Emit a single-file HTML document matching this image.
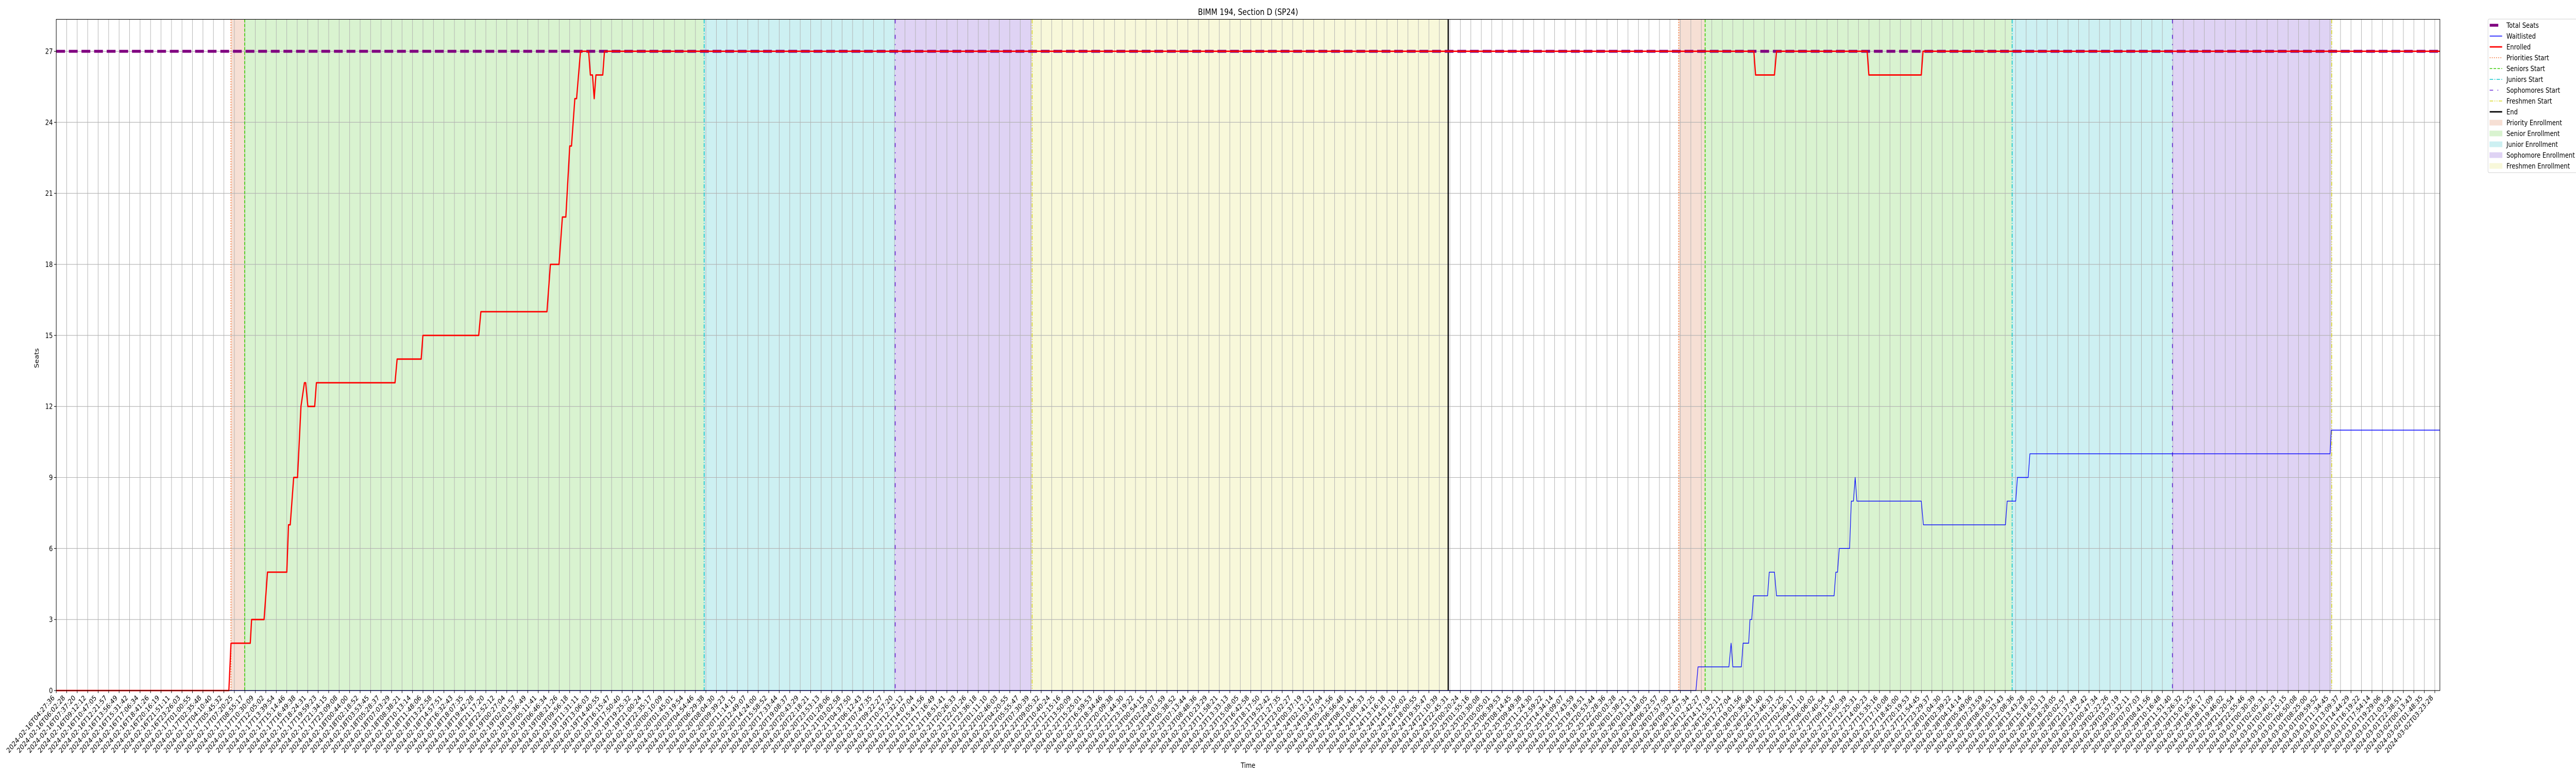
<!DOCTYPE html>
<html><head><meta charset="utf-8"><style>
html,body{margin:0;padding:0;background:#fff;width:100%;height:100%;overflow:hidden;}
svg{display:block;width:100vw;height:100vh;font-family:"DejaVu Sans","Liberation Sans",sans-serif;}
</style></head><body>
<svg id="chart" viewBox="0 0 6000 1500" preserveAspectRatio="none" xmlns="http://www.w3.org/2000/svg">
<rect width="6000" height="1500" fill="#fff"/>
<g id="bands"></g><g id="grid"></g><g id="vlines"></g><g id="series"></g><g id="axes"></g>
<text x="2907" y="29" font-size="16.7" text-anchor="middle">BIMM 194, Section D (SP24)</text>
<text x="2907" y="1490" font-size="13.9" text-anchor="middle">Time</text>
<text transform="translate(90,695) rotate(-90)" font-size="13.9" text-anchor="middle">Seats</text>
<g id="legend"></g>
</svg>
<script>
// ---- data ----
const startISO = "2024-02-16T04:27:36Z";
const totalHours = 359.7;
const yTicks = [0,3,6,9,12,15,18,21,24,27];
const totalSeats = 27;
const enrolledTimes = [0,26.05,26.37,29.28,29.48,31.36,31.88,34.79,35.05,35.31,35.83,36.41,36.93,37.45,37.64,37.97,39.0,39.26,51.12,51.44,55.07,55.33,63.75,64.08,74.05,74.57,75.87,76.38,76.9,77.49,77.75,78.26,78.52,79.11,80.34,80.6,80.92,81.18,81.44,82.47,82.73,256.17,256.43,259.28,259.6,273.27,273.53,281.44,281.7,359.7];
const enrolledValues = [0,0,2,2,3,3,5,5,7,7,9,9,12,13,13,12,12,13,13,14,14,15,15,16,16,18,18,20,20,23,23,25,25,27,27,26,26,25,26,26,27,27,26,26,27,27,26,26,27,27];
const waitTimes = [0,247.43,247.75,252.41,252.74,253.0,254.29,254.55,255.39,255.59,255.85,256.11,258.24,258.5,259.28,259.6,268.28,268.54,268.8,269.06,270.62,270.88,271.2,271.46,271.72,281.44,281.76,294.14,294.4,295.69,295.95,297.57,297.83,343.12,343.31,359.7];
const waitValues = [0,0,1,1,2,1,1,2,2,3,3,4,4,5,5,4,4,5,5,6,6,8,8,9,8,8,7,7,8,8,9,9,10,10,11,11];
const phaseNames = ["priority","seniors","juniors","sophomores","freshmen"];
const cycle1Starts = [26.37,28.44,97.77,126.6,147.26];
const cycle1End = 210.05;
const cycle2Starts = [244.84,248.82,295.15,319.34,343.37];
const tickCount = 228;
const tickStepSec = 5692.3;

// ---- layout ----
const L=131,R=5683,T=37.5,B=1340,yMax=28.35;
const NS="http://www.w3.org/2000/svg";
const xS=h=>L+h/totalHours*(R-L);
const yS=v=>B-v/yMax*(B-T);
function mk(tag,attrs,parent){const e=document.createElementNS(NS,tag);for(const k in attrs)e.setAttribute(k,attrs[k]);parent.appendChild(e);return e;}
const g=id=>document.getElementById(id);
const bandFill=["#f6dfd4","#d9f3d0","#cdf0f2","#dfd3f4","#f8f8da"];
const lineCol=["#f26b2a","#3fcc0c","#12c7cc","#6a2bd9","#d8d82a"];
const lineDash=["2,3","6,3","8,3,2,3","8,10,2,10","8,3,2,3,2,3"];

function drawCycle(starts,end,n){
  for(let i=0;i<5;i++){
    const a=starts[i], b=(i<4)?starts[i+1]:end;
    if(b!==null){
      const r=mk('rect',{x:xS(a),y:T,width:xS(b)-xS(a),height:B-T,fill:bandFill[i]},g('bands'));
      
      
    }
    const l=mk('line',{x1:xS(a),x2:xS(a),y1:T,y2:B,stroke:lineCol[i],'stroke-width':2,'stroke-dasharray':lineDash[i]},g('vlines'));
    
    
  }
}
drawCycle(cycle1Starts,cycle1End,1);
drawCycle(cycle2Starts,null,2);
const endLine=mk('line',{x1:xS(cycle1End),x2:xS(cycle1End),y1:T,y2:B,stroke:'#000','stroke-width':2.8},g('vlines'));



// grid + ticks
const t0=Date.parse(startISO);
const pad=n=>String(n).padStart(2,'0');
for(let i=0;i<tickCount;i++){
  const h=i*tickStepSec/3600; const x=xS(h);
  mk('line',{x1:x,x2:x,y1:T,y2:B,stroke:'#b0b0b0','stroke-width':1.1},g('grid'));
  mk('line',{x1:x,x2:x,y1:B,y2:B+5,stroke:'#000','stroke-width':1.1},g('axes'));
  const d=new Date(t0+i*tickStepSec*1000);
  const s=d.getUTCFullYear()+'-'+pad(d.getUTCMonth()+1)+'-'+pad(d.getUTCDate())+'T'+pad(d.getUTCHours())+':'+pad(d.getUTCMinutes())+':'+pad(d.getUTCSeconds());
  const t=mk('text',{transform:`translate(${x-3},${B+15}) rotate(-45)`,'font-size':13.9,'text-anchor':'end',fill:'#000'},g('axes'));
  t.textContent=s;
  
  
}
yTicks.forEach(v=>{
  const y=yS(v);
  mk('line',{x1:L,x2:R,y1:y,y2:y,stroke:'#b0b0b0','stroke-width':1.1},g('grid'));
  mk('line',{x1:L-5,x2:L,y1:y,y2:y,stroke:'#000','stroke-width':1.1},g('axes'));
  const t=mk('text',{x:L-8,y:y+5,'font-size':13.9,'text-anchor':'end'},g('axes'));
  t.textContent=v;
  
  
});
mk('rect',{x:L,y:T,width:R-L,height:B-T,fill:'none',stroke:'#000','stroke-width':1.1},g('axes'));

// series
const ts=mk('line',{x1:L,x2:R,y1:yS(totalSeats),y2:yS(totalSeats),stroke:'#800080','stroke-width':5.6,'stroke-dasharray':'20.5,8.9'},g('series'));


function poly(xs,vs,col,w,name){
  const p=mk('polyline',{points:xs.map((h,i)=>xS(h)+','+yS(vs[i])).join(' '),fill:'none',stroke:col,'stroke-width':w,'stroke-linejoin':'round'},g('series'));
  
  
}
poly(waitTimes,waitValues,'#0000ff',1.4,'waitlisted-line');
poly(enrolledTimes,enrolledValues,'#ff0000',2.8,'enrolled-line');

// legend
const lg=g('legend');
mk('rect',{x:5795,y:37,width:210,height:298,rx:3,fill:'#fff',stroke:'#d0d0d0','stroke-width':1},lg);
const items=[
 ['Total Seats','line','#800080',5.6,null],['Waitlisted','line','#0000ff',1.4,null],['Enrolled','line','#ff0000',2.8,null],
 ['Priorities Start','line',lineCol[0],1.5,lineDash[0]],['Seniors Start','line',lineCol[1],1.5,lineDash[1]],
 ['Juniors Start','line',lineCol[2],1.5,lineDash[2]],['Sophomores Start','line',lineCol[3],1.5,lineDash[3]],
 ['Freshmen Start','line',lineCol[4],1.5,lineDash[4]],['End','line','#000',2.8,null],
 ['Priority Enrollment','patch',bandFill[0]],['Senior Enrollment','patch',bandFill[1]],['Junior Enrollment','patch',bandFill[2]],
 ['Sophomore Enrollment','patch',bandFill[3]],['Freshmen Enrollment','patch',bandFill[4]]];
items.forEach((it,i)=>{
  const y=49+i*21;
  if(it[1]==='line'){
    const a={x1:5799,x2:5828,y1:y,y2:y,stroke:it[2],'stroke-width':it[3]};
    if(it[4])a['stroke-dasharray']=it[4];
    if(i===0){a.x2=5819;}
    mk('line',a,lg);
  } else {
    mk('rect',{x:5799,y:y-5,width:29,height:10,fill:it[2],stroke:it[2]},lg);
  }
  const t=mk('text',{x:5838,y:y+5,'font-size':13.9},lg);
  t.textContent=it[0];
  
  
});
</script>
</body></html>
